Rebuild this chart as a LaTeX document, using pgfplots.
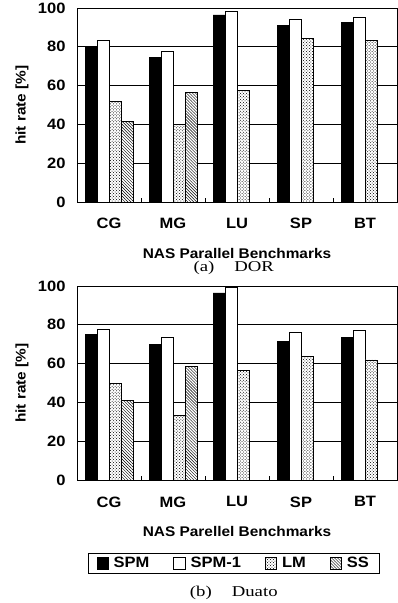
\documentclass[border=0pt]{standalone}
\usepackage{fontspec}
\setmainfont{Liberation Sans}[FakeStretch=1.1]
\newfontfamily\capfont{Liberation Serif}[FakeStretch=1.25]
\usepackage{pgfplots}
\pgfplotsset{compat=1.18}
\usetikzlibrary{patterns}

\pgfplotsset{
  hitaxis/.style={
    scale only axis,
    width=320bp, height=194bp,
    ybar=0pt, bar width=0.1875,
    xmin=-0.5, xmax=4.5, ymin=0, ymax=100,
    ytick={0,20,40,60,80,100},
    xtick={0,1,2,3,4},
    xticklabels={CG,MG,LU,SP,BT},
    minor xtick={0.5,1.5,2.5,3.5},
    tick pos=left,
    tick align=inside,
    major tick length=0pt,
    minor tick length=4bp,
    every tick/.style={black, line width=0.8bp},
    ymajorgrids,
    grid style={black, line width=0.9bp},
    axis line style={black, line width=0.9bp},
    /pgf/number format/assume math mode=true,
    tick label style={font=\fontsize{15bp}{17bp}\selectfont\bfseries},
    xticklabel style={yshift=-13bp},
    yticklabel style={xshift=-8bp},
    label style={font=\fontsize{14bp}{16bp}\selectfont\bfseries},
    xlabel style={at={(axis description cs:0.5,-0.263)}, anchor=center},
    ylabel style={at={(axis description cs:-0.172,0.5)}, anchor=center},
    ylabel={hit rate [\%]},
    clip=false,
  },
  spm/.style={draw=black, fill=black, line width=0.6bp},
  spmone/.style={draw=black, fill=white, line width=0.6bp},
  lm/.style={draw=black, fill=white, line width=0.6bp, postaction={pattern=crosshatch dots}},
  ss/.style={draw=black, fill=white, line width=0.6bp, postaction={pattern=north west lines}},
}

\begin{document}
\begin{tikzpicture}
\useasboundingbox (0,0) rectangle (398bp,-603bp);

\begin{axis}[hitaxis, at={(77bp,-202bp)}, anchor=south west,
  xlabel={NAS Parallel Benchmarks}]
\addplot[spm] coordinates {(0,80) (1,74.4) (2,96.4) (3,91.2) (4,92.4)};
\addplot[spmone] coordinates {(0,83.2) (1,77.5) (2,98.5) (3,94.1) (4,95.2)};
\addplot[lm] coordinates {(0,52) (1,40) (2,57.4) (3,84.4) (4,83.2)};
\addplot[ss] coordinates {(0,41.5) (1,56.3)};
\node[font=\capfont\fontsize{15bp}{17bp}\selectfont] at (axis description cs:0.49,-0.34) {(a)\hspace{20bp}DOR};
\end{axis}

\begin{axis}[hitaxis, at={(77bp,-480bp)}, anchor=south west,
  xlabel={NAS Parellel Benchmarks},
  legend columns=4,
  legend style={at={(axis description cs:0.49,-0.376)}, anchor=north,
    draw=black, line width=0.9bp,
    font=\fontsize{15bp}{17bp}\selectfont\bfseries,
    inner xsep=8bp, inner ysep=2bp,
    /tikz/every odd column/.append style={column sep=3bp},
    /tikz/every even column/.append style={column sep=22bp}},
  legend image code/.code={\draw[#1, line width=0.6bp] (0bp,-5.5bp) rectangle (11.5bp,6bp);},
  ]
\addplot[spm] coordinates {(0,75.1) (1,70.1) (2,96.4) (3,71.6) (4,73.5)};
\addplot[spmone] coordinates {(0,77.7) (1,73.4) (2,99.3) (3,75.9) (4,77.3)};
\addplot[lm] coordinates {(0,49.8) (1,33.2) (2,56.7) (3,63.9) (4,61.9)};
\addplot[ss] coordinates {(0,40.9) (1,58.4)};
\legend{SPM,SPM-1,LM,SS}
\node[font=\capfont\fontsize{15bp}{17bp}\selectfont] at (axis description cs:0.49,-0.58) {(b)\hspace{20bp}Duato};
\end{axis}
\end{tikzpicture}
\end{document}
